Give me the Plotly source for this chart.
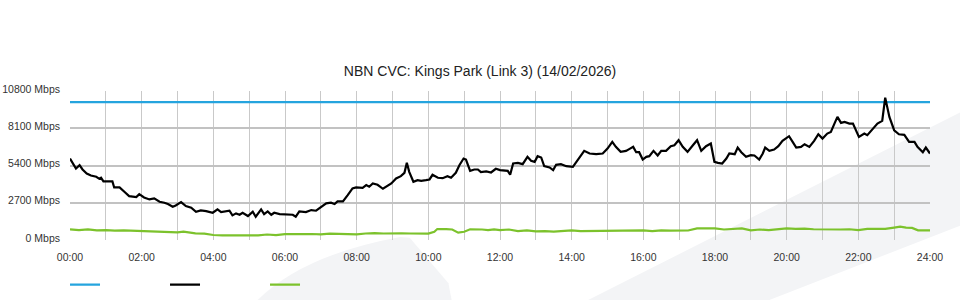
import plotly.graph_objects as go

TITLE = "NBN CVC: Kings Park (Link 3) (14/02/2026)"

# Capacity (Mbps)
capacity_times = ["00:00", "24:00"]
capacity_values = [10000, 10000]

# Inbound traffic (black line), Mbps
traffic_times = [
    "00:00", "00:06", "00:10", "00:16", "00:21", "00:28", "00:35", "00:44", "00:49", "00:52",
    "00:56", "01:03", "01:11", "01:14", "01:23", "01:31", "01:39", "01:51", "01:56", "02:04",
    "02:13", "02:21", "02:30", "02:38", "02:44", "02:52", "02:57", "03:06", "03:14", "03:23",
    "03:31", "03:39", "03:48", "03:59", "04:07", "04:13", "04:21", "04:27", "04:32", "04:38",
    "04:44", "04:49", "04:58", "05:06", "05:11", "05:20", "05:25", "05:31", "05:37", "05:42",
    "05:51", "06:02", "06:13", "06:18", "06:24", "06:35", "06:44", "06:52", "07:00", "07:09",
    "07:17", "07:23", "07:28", "07:37", "07:45", "07:53", "07:59", "08:10", "08:16", "08:21",
    "08:27", "08:35", "08:44", "08:49", "08:58", "09:06", "09:14", "09:20", "09:24", "09:28",
    "09:35", "09:42", "09:48", "09:56", "10:02", "10:07", "10:16", "10:24", "10:32", "10:38",
    "10:46", "10:52", "10:59", "11:03", "11:10", "11:17", "11:23", "11:28", "11:37", "11:45",
    "11:53", "12:00", "12:07", "12:13", "12:17", "12:22", "12:30", "12:38", "12:46", "12:52",
    "12:58", "13:03", "13:09", "13:14", "13:23", "13:29", "13:34", "13:42", "13:51", "14:02",
    "14:10", "14:21", "14:30", "14:41", "14:52", "15:00", "15:08", "15:14", "15:22", "15:31",
    "15:37", "15:43", "15:48", "15:53", "15:59", "16:05", "16:10", "16:17", "16:24", "16:30",
    "16:38", "16:46", "16:52", "16:59", "17:06", "17:14", "17:23", "17:30", "17:37", "17:45",
    "17:53", "17:59", "18:05", "18:12", "18:19", "18:24", "18:33", "18:38", "18:44", "18:52",
    "19:00", "19:06", "19:14", "19:20", "19:24", "19:31", "19:39", "19:46", "19:53", "20:04",
    "20:10", "20:16", "20:24", "20:30", "20:38", "20:46", "20:53", "21:00", "21:08", "21:14",
    "21:20", "21:25", "21:31", "21:37", "21:45", "21:51", "22:01", "22:10", "22:15", "22:24",
    "22:32", "22:40", "22:45", "22:52", "23:00", "23:08", "23:17", "23:25", "23:34", "23:39",
    "23:48", "23:53", "24:00",
]
traffic_values = [
    5907, 5497, 5184, 5425, 5111, 4822, 4677, 4581, 4436, 4509,
    4243, 4243, 4243, 3809, 3809, 3496, 3183, 3110, 3327, 3086,
    2941, 3014, 2773, 2700, 2604, 2411, 2507, 2749, 2459, 2339,
    2049, 2146, 2098, 1977, 2218, 2025, 2073, 2122, 1784, 1929,
    1832, 1977, 1736, 2049, 1688, 2218, 1880, 2073, 1832, 1977,
    1880, 1880, 1832, 1688, 2073, 2025, 2170, 2122, 2363, 2652,
    2700, 2604, 2797, 2797, 3255, 3737, 3809, 3785, 3978, 3858,
    4099, 4002, 3713, 3858, 4099, 4460, 4629, 4870, 5593, 4943,
    4219, 4340, 4292, 4340, 4388, 4725, 4509, 4484, 4629, 4509,
    4870, 5425, 5907, 5835, 5015, 5111, 5111, 4918, 4967, 4894,
    5160, 5063, 5015, 5015, 4726, 5545, 5594, 5497, 6028, 5738,
    5666, 6076, 5979, 5352, 5256, 5063, 5449, 5497, 5352, 5304,
    5786, 6461, 6269, 6220, 6269, 6630, 7112, 6751, 6389, 6461,
    6606, 6751, 6365, 6365, 5834, 6028, 6076, 6461, 6124, 6461,
    6461, 6799, 6871, 7233, 6751, 6389, 6871, 7233, 6461, 6799,
    6992, 5666, 5594, 5545, 5907, 6269, 6220, 6702, 6365, 6028,
    6148, 6124, 5834, 6269, 6702, 6461, 6558, 6799, 7185, 7522,
    7112, 6702, 6751, 6944, 6751, 7185, 7667, 7354, 7715, 7836,
    8439, 8921, 8487, 8559, 8439, 8439, 7474, 7715, 7595, 8077,
    8439, 8631, 10319, 8921, 7956, 7667, 7619, 7112, 7112, 6751,
    6365, 6702, 6269,
]

# Outbound traffic (green line), Mbps
upload_times = [
    "00:00", "00:15", "00:30", "00:45", "01:00", "01:15", "01:30", "01:45", "02:00", "02:15",
    "02:30", "02:45", "03:00", "03:10", "03:20", "03:30", "03:45", "04:00", "04:15", "04:30",
    "04:45", "05:00", "05:15", "05:30", "05:45", "06:00", "06:15", "06:30", "06:45", "07:00",
    "07:15", "07:30", "07:45", "08:00", "08:15", "08:30", "08:45", "09:00", "09:15", "09:30",
    "09:45", "10:00", "10:10", "10:15", "10:30", "10:40", "10:50", "11:00", "11:10", "11:20",
    "11:30", "11:40", "11:50", "12:00", "12:15", "12:30", "12:45", "13:00", "13:15", "13:30",
    "13:45", "14:00", "14:15", "14:30", "14:45", "15:00", "15:15", "15:30", "15:45", "16:00",
    "16:15", "16:30", "16:45", "17:00", "17:15", "17:30", "17:45", "18:00", "18:15", "18:30",
    "18:45", "19:00", "19:15", "19:30", "19:45", "20:00", "20:15", "20:30", "20:45", "21:00",
    "21:15", "21:30", "21:45", "22:00", "22:15", "22:30", "22:45", "23:00", "23:10", "23:20",
    "23:30", "23:40", "23:50", "24:00",
]
upload_values = [
    771, 723, 771, 700, 723, 675, 700, 675, 650, 627,
    600, 555, 555, 600, 530, 480, 460, 362, 340, 340,
    340, 362, 340, 400, 360, 420, 434, 410, 434, 410,
    460, 440, 434, 410, 470, 500, 470, 500, 480, 470,
    440, 460, 600, 795, 795, 760, 530, 600, 780, 795,
    760, 720, 770, 720, 760, 650, 700, 620, 650, 600,
    640, 700, 650, 660, 650, 700, 690, 720, 690, 700,
    650, 700, 680, 675, 690, 844, 820, 844, 760, 800,
    844, 700, 760, 720, 780, 844, 800, 820, 780, 760,
    740, 760, 780, 720, 800, 780, 800, 900, 964, 900,
    880, 700, 675, 700,
]

y_tick_values = [0, 2700, 5400, 8100, 10800]
y_tick_labels = ["0 Mbps", "2700 Mbps", "5400 Mbps", "8100 Mbps", "10800 Mbps"]
x_tick_values = list(range(0, 25, 2))
x_tick_labels = [f"{h:02d}:00" for h in x_tick_values]


def to_hours(ts):
    out = []
    for t in ts:
        h, m = t.split(":")
        out.append(int(h) + int(m) / 60.0)
    return out


FONT = "Liberation Sans, Arial, Helvetica, sans-serif"

fig = go.Figure()
fig.add_trace(go.Scatter(x=to_hours(capacity_times), y=capacity_values, mode="lines",
                         name=" ", line=dict(color="#25a4de", width=2.2),
                         hovertemplate="Capacity: %{y} Mbps<extra></extra>"))
fig.add_trace(go.Scatter(x=to_hours(traffic_times), y=traffic_values, mode="lines",
                         name="  ", line=dict(color="#000000", width=2.2),
                         hovertemplate="Inbound: %{y} Mbps<extra></extra>"))
fig.add_trace(go.Scatter(x=to_hours(upload_times), y=upload_values, mode="lines",
                         name="   ", line=dict(color="#7cc22c", width=2.2),
                         hovertemplate="Outbound: %{y} Mbps<extra></extra>"))

# faint background watermark
bg = "#f3f4f6"
fig.add_shape(type="path", xref="paper", yref="paper", layer="below", line_width=0, fillcolor=bg,
              path="M 0.217,-0.41 Q 0.27,-0.10 0.384,0.02 L 0.395,0.015 L 0.44,-0.29 L 0.444,-0.41 Z")
fig.add_shape(type="path", xref="paper", yref="paper", layer="below", line_width=0, fillcolor=bg,
              path="M 0.60,-0.41 L 1.05,0.90 L 1.05,0.13 L 0.81,-0.41 Z")

fig.update_layout(
    width=960, height=300,
    margin=dict(l=70, r=30, t=91, b=60, autoexpand=False),
    paper_bgcolor="white",
    plot_bgcolor="rgba(0,0,0,0)",
    font=dict(family=FONT, size=10.5, color="#333333"),
    title=dict(text=TITLE, x=0.5, xanchor="center", y=1 - 71 / 300, yanchor="middle",
               yref="container", font=dict(family=FONT, size=14, color="#222222")),
    showlegend=True,
    legend=dict(orientation="h", x=-0.0058, xanchor="left", y=-0.30, yanchor="middle",
                entrywidth=55, entrywidthmode="pixels", bgcolor="rgba(0,0,0,0)",
                font=dict(size=11)),
    xaxis=dict(range=[0, 24], tickvals=x_tick_values, ticktext=x_tick_labels,
               showgrid=True, gridcolor="#c9c9c9", gridwidth=1,
               minor=dict(dtick=1, tick0=0, showgrid=True, gridcolor="#c9c9c9", gridwidth=1),
               zeroline=False, showline=False, ticks="", ticklabelstandoff=9,
               automargin=False, fixedrange=True),
    yaxis=dict(range=[0, 10800], tickvals=y_tick_values, ticktext=y_tick_labels,
               showgrid=True, gridcolor="#c2c2c2", gridwidth=2,
               zeroline=False, showline=False, ticks="", ticklabelstandoff=9,
               ticklabelshift=-2, automargin=False, fixedrange=True),
    hovermode="x",
)

fig.write_html("out.html")
